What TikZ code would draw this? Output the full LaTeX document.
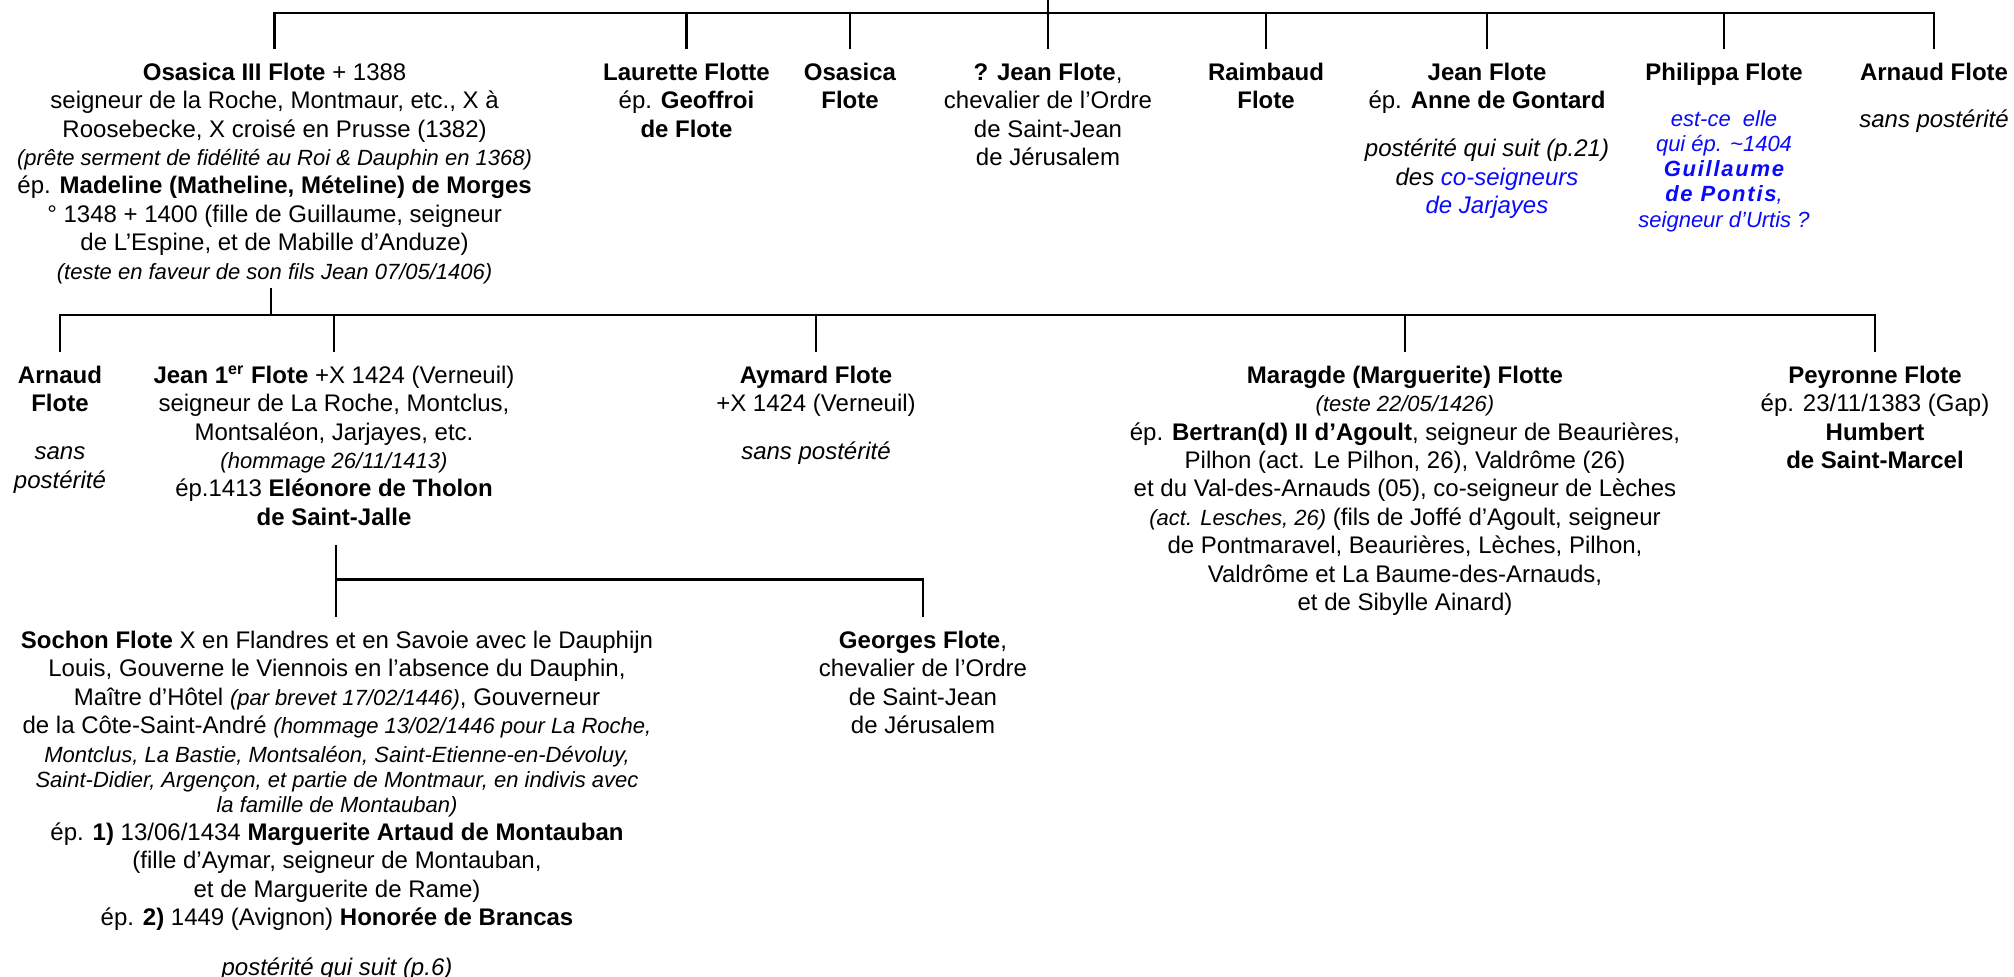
\documentclass[tikz,border=0pt]{standalone}
\usepackage{fontspec}
\setmainfont{Liberation Sans}
\usetikzlibrary{calc}
\definecolor{refblue}{RGB}{10,10,250}
\newcommand\smallital[1]{{\fontsize{11}{13}\selectfont\itshape #1}}
\newcommand\spacedbold[1]{{\bfseries\addfontfeature{LetterSpace=8}#1}}
\newcommand\tstrut{\rule{0pt}{15.5pt}}
\begin{document}
\begin{tikzpicture}[x=0.5pt,y=-0.5pt,
  person/.style={anchor=north,align=center,inner sep=0pt,font=\fontsize{12}{14.2}\selectfont},
  link/.style={line width=1.4pt}]
\path[use as bounding box] (0,0) rectangle (2014,977);

% ---------- row 1 ----------
\node[person] (osasica3) at (274.6,49) {\tstrut\textbf{Osasica III Flote} + 1388\\
seigneur de la Roche, Montmaur, etc., X à\\
Roosebecke, X croisé en Prusse (1382)\\
\smallital{(prête serment de fidélité au Roi \& Dauphin en 1368)}\\
ép. \textbf{Madeline (Matheline, Mételine) de Morges}\\
° 1348 + 1400 (fille de Guillaume, seigneur\\
de L’Espine, et de Mabille d’Anduze)\\
\smallital{(teste en faveur de son fils Jean 07/05/1406)}};

\node[person] (laurette) at (686.5,49) {\tstrut\textbf{Laurette Flotte}\\
ép. \textbf{Geoffroi}\\
\textbf{de Flote}};

\node[person] (osasica) at (850,49) {\tstrut\textbf{Osasica}\\
\textbf{Flote}};

\node[person] (jeanq) at (1048,49) {\tstrut\textbf{? Jean Flote},\\
chevalier de l’Ordre\\
de Saint-Jean\\
de Jérusalem};

\node[person] (raimbaud) at (1266,49) {\tstrut\textbf{Raimbaud}\\
\textbf{Flote}};

\node[person] (jeanflote) at (1487,49) {\tstrut\textbf{Jean Flote}\\
ép. \textbf{Anne de Gontard}\\[9.8pt]
\textit{postérité qui suit (p.21)}\\
\textit{des \textcolor{refblue}{co-seigneurs}}\\
\textit{\textcolor{refblue}{de Jarjayes}}};

\node[person] (philippa) at (1724,49) {\tstrut\textbf{Philippa Flote}\\[8.8pt]
\textcolor{refblue}{\smallital{est-ce\ \ elle}}\\[-1.6pt]
\textcolor{refblue}{\smallital{qui ép. \textasciitilde1404}}\\[-1.6pt]
\textcolor{refblue}{\smallital{\spacedbold{Guillaume}}}\\[-1.6pt]
\textcolor{refblue}{\smallital{\spacedbold{de Pontis},}}\\[-1.6pt]
\textcolor{refblue}{\smallital{seigneur d’Urtis ?}}};

\node[person] (arnaud) at (1934,49) {\tstrut\textbf{Arnaud Flote}\\[9.3pt]
\textit{sans postérité}};

% ---------- row 2 ----------
\node[person] (arnaudb) at (60,352) {\tstrut\textbf{Arnaud}\\
\textbf{Flote}\\[9.8pt]
\textit{sans}\\
\textit{postérité}};

\node[person] (jean1) at (334,352) {\tstrut\textbf{Jean 1\textsuperscript{er} Flote} +X 1424 (Verneuil)\\
seigneur de La Roche, Montclus,\\
Montsaléon, Jarjayes, etc.\\
\smallital{(hommage 26/11/1413)}\\
ép.1413 \textbf{Eléonore de Tholon}\\
\textbf{de Saint-Jalle}};

\node[person] (aymard) at (816,352) {\tstrut\textbf{Aymard Flote}\\
+X 1424 (Verneuil)\\[9.8pt]
\textit{sans postérité}};

\node[person] (maragde) at (1405,352) {\tstrut\textbf{Maragde (Marguerite) Flotte}\\
\smallital{(teste 22/05/1426)}\\
ép. \textbf{Bertran(d) II d’Agoult}, seigneur de Beaurières,\\
Pilhon (act. Le Pilhon, 26), Valdrôme (26)\\
et du Val-des-Arnauds (05), co-seigneur de Lèches\\
\smallital{(act. Lesches, 26)} (fils de Joffé d’Agoult, seigneur\\
de Pontmaravel, Beaurières, Lèches, Pilhon,\\
Valdrôme et La Baume-des-Arnauds,\\
et de Sibylle Ainard)};

\node[person] (peyronne) at (1875,352) {\tstrut\textbf{Peyronne Flote}\\
ép. 23/11/1383 (Gap)\\
\textbf{Humbert}\\
\textbf{de Saint-Marcel}};

% ---------- row 3 ----------
\node[person] (sochon) at (337,617) {\tstrut\textbf{Sochon Flote} X en Flandres et en Savoie avec le Dauphijn\\
Louis, Gouverne le Viennois en l’absence du Dauphin,\\
Maître d’Hôtel \smallital{(par brevet 17/02/1446)}, Gouverneur\\
de la Côte-Saint-André \smallital{(hommage 13/02/1446 pour La Roche,}\\
\smallital{Montclus, La Bastie, Montsaléon, Saint-Etienne-en-Dévoluy,}\\[-1.7pt]
\smallital{Saint-Didier, Argençon, et partie de Montmaur, en indivis avec}\\[-1.7pt]
\smallital{la famille de Montauban)}\\
ép. \textbf{1)} 13/06/1434 \textbf{Marguerite Artaud de Montauban}\\
(fille d’Aymar, seigneur de Montauban,\\
et de Marguerite de Rame)\\
ép. \textbf{2)} 1449 (Avignon) \textbf{Honorée de Brancas}\\[10.8pt]
\textit{postérité qui suit (p.6)}};

\node[person] (georges) at (923,617) {\tstrut\textbf{Georges Flote},\\
chevalier de l’Ordre\\
de Saint-Jean\\
de Jérusalem};

% ---------- connectors ----------
\coordinate (parent) at (1048,0);
\coordinate (bus1) at (0,13);
\coordinate (bus2) at (0,315);
\coordinate (bus3) at (0,579.5);
\coordinate (o3b) at ([xshift=-1.8pt,yshift=-2pt]osasica3.south);
\coordinate (j1b) at ([xshift=1pt,yshift=-9.7pt]jean1.south);

\draw[link] (parent) -- (parent |- bus1);
\draw[link] (osasica3.north) -- (osasica3.north |- bus1) -- (arnaud.north |- bus1) -- (arnaud.north);
\foreach \n in {laurette,osasica,jeanq,raimbaud,jeanflote,philippa}
  \draw[link] (\n.north |- bus1) -- (\n.north);

\draw[link] (o3b) -- (o3b |- bus2);
\draw[link] (arnaudb.north) -- (arnaudb.north |- bus2) -- (peyronne.north |- bus2) -- (peyronne.north);
\foreach \n in {jean1,aymard,maragde}
  \draw[link] (\n.north |- bus2) -- (\n.north);

\draw[link] (j1b) -- (j1b |- sochon.north);
\draw[link] (j1b |- bus3) -- (georges.north |- bus3) -- (georges.north);
\end{tikzpicture}
\end{document}
